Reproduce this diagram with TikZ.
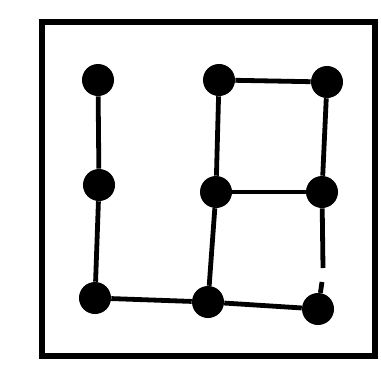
\documentclass[tikz,border=0pt]{standalone}
\usetikzlibrary{positioning}

\begin{document}
\begin{tikzpicture}[
            x=0.025cm, y=-0.025cm,
            dot/.style={circle, fill, inner sep=0pt, minimum size=0.8cm},
            edge/.style={line width=0.12cm},
            frame/.style={line width=0.15cm}
        ]
            \useasboundingbox (0,0) rectangle (381,369);

            % Frame
            \draw[frame] (42,22) rectangle (375,356);

            % Left column
            \node[dot] (a) at (98,80) {};
            \node[dot] (b) at (99,185) {};
            \node[dot] (c) at (95,298) {};

            % Middle column
            \node[dot] (d) at (219,80) {};
            \node[dot] (f) at (216,192) {};
            \node[dot] (h) at (208,302) {};

            % Right column
            \node[dot] (e) at (327,82) {};
            \node[dot] (g) at (322,192) {};
            \node[dot] (i) at (318,309) {};

            % Break in the right edge
            \coordinate (gapTop) at (323,268);
            \coordinate (gapBot) at (322,282);

            \draw[edge] (a) -- (b);
            \draw[edge] (b) -- (c);
            \draw[edge] (c) -- (h);
            \draw[edge] (h) -- (i);
            \draw[edge] (d) -- (e);
            \draw[edge] (d) -- (f);
            \draw[edge] (f) -- (h);
            \draw[edge] (e) -- (g);
            \draw[edge] (f) -- (g);
            \draw[edge] (g) -- (gapTop);
            \draw[edge] (i) -- (gapBot);
        \end{tikzpicture}
\end{document}
